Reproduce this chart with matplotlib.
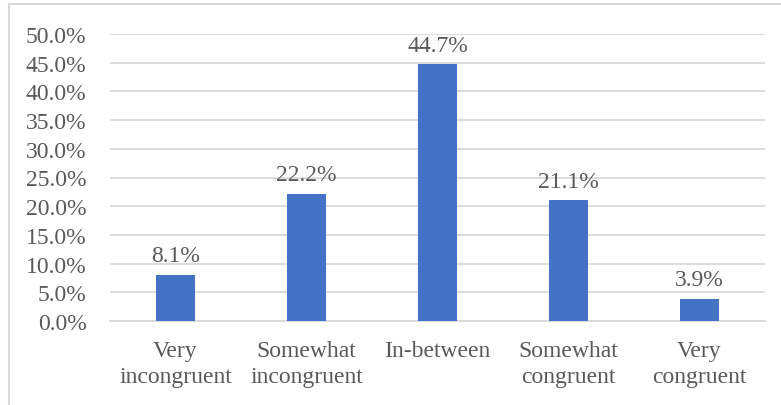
import matplotlib

matplotlib.use("Agg")
import matplotlib.pyplot as plt
from matplotlib.patches import Rectangle
from matplotlib.ticker import FuncFormatter, MultipleLocator

categories = ["Very\nincongruent", "Somewhat\nincongruent", "In-between",
              "Somewhat\ncongruent", "Very\ncongruent"]
shares = [8.1, 22.2, 44.7, 21.1, 3.9]

BAR = "#4472c4"
TEXT = "#595959"
GRID = "#d9d9d9"
FS = 17

plt.rcParams.update({
    "font.family": ["Liberation Serif", "DejaVu Serif"],
    "font.size": FS,
})

W, H = 781, 406
fig = plt.figure(figsize=(W / 100, H / 100), dpi=100)
ax = fig.add_axes([110 / W, 1 - 322 / H, (765 - 110) / W, (322 - 35) / H])

x = range(len(categories))
bars = ax.bar(x, shares, width=0.305, color=BAR, zorder=3)
for rect, v in zip(bars, shares):
    ax.annotate(f"{v:.1f}%", (rect.get_x() + rect.get_width() / 2, v),
                xytext=(0, 6), textcoords="offset points",
                ha="center", va="bottom", color=TEXT, fontsize=FS)

ax.set_xlim(-0.5, len(categories) - 0.5)
ax.set_ylim(0, 50)
ax.yaxis.set_major_locator(MultipleLocator(5))
ax.yaxis.set_major_formatter(FuncFormatter(lambda v, _: f"{v:.1f}%"))
ax.grid(axis="y", color=GRID, lw=1.3, zorder=0)
ax.set_xticks(list(x))
ax.set_xticklabels(categories, linespacing=1.3)
ax.tick_params(axis="y", length=0, pad=17, colors=TEXT, labelsize=FS)
ax.tick_params(axis="x", length=0, pad=14, colors=TEXT, labelsize=FS)
for s in ("top", "right", "left"):
    ax.spines[s].set_visible(False)
ax.spines["bottom"].set_color(GRID)
ax.spines["bottom"].set_linewidth(1.3)

# chart frame (left and top edges fall inside the canvas)
fig.patches.append(Rectangle((9 / W, -0.1), 1.2, 1 - 5 / H + 0.1,
                             transform=fig.transFigure, fill=False,
                             edgecolor="#d9d9d9", lw=1.5))

fig.savefig("out.png", dpi=100)
